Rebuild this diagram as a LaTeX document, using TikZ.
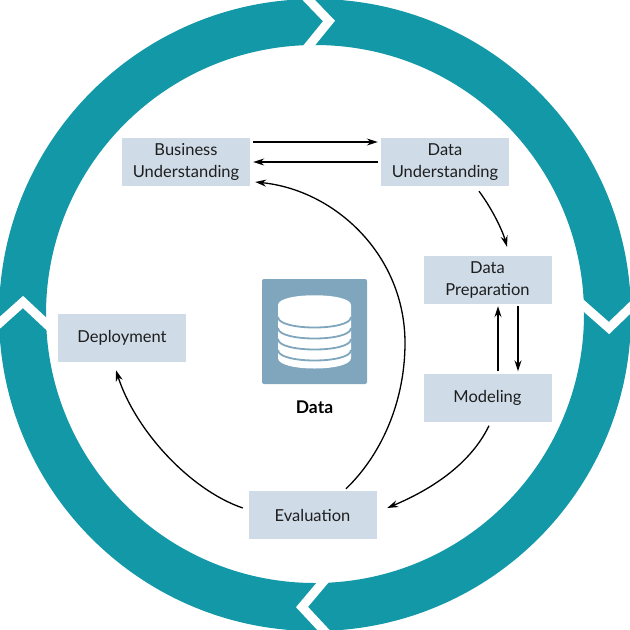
\documentclass[tikz,border=0pt]{standalone}
\usepackage{fontspec}
\setmainfont{Lato}
\usetikzlibrary{arrows.meta}
\definecolor{ringteal}{RGB}{18, 152, 166}
\definecolor{boxblue}{RGB}{207, 220, 232}
\definecolor{iconblue}{RGB}{127, 166, 189}
\definecolor{inkgray}{RGB}{30, 30, 30}
\tikzset{
    stagebox/.style={fill=boxblue, minimum width=128pt, minimum height=48pt,
        inner sep=0pt, align=center, text=inkgray,
        font=\fontsize{16.5}{22}\selectfont},
    flow/.style={-{Stealth[length=11pt,width=7pt]}, black, line width=1.3pt},
    notch/.style={white, line width=9pt, miter limit=10},
}

\begin{document}
\begin{tikzpicture}[x=1pt, y=-1pt]
    \useasboundingbox (0,0) rectangle (630,630);

    %% outer ring with the four white chevrons
    \fill[ringteal, even odd rule] (315,315) circle [radius=316] (315,314) circle [radius=269];
    \draw[notch] (303,-6) -- (329,21) -- (303,53);
    \draw[notch] (576,299) -- (609,328) -- (636,302);
    \draw[notch] (329,575) -- (302,607) -- (329,636);
    \draw[notch] (-6,328) -- (23,302) -- (54,331);

    %% the six stages
    \node[stagebox] (bizbox) at (186,162) {Business\\Understanding};
    \node[stagebox] (databox) at (445,162) {Data\\Understanding};
    \node[stagebox] (prepbox) at (487.5,280) {Data\\Preparation};
    \node[stagebox] (modelbox) at (487.5,397.5) {Modeling};
    \node[stagebox] (evalbox) at (312.5,515) {Evaluation};
    \node[stagebox] (deploybox) at (122,337.5) {Deployment};

    %% database icon
    \node[fill=iconblue, rounded corners=2pt, minimum size=105pt, inner sep=0pt] (iconbox) at (314.5,331.5) {};
    \fill[white] (278,305) .. controls (278,292) and (351,292) .. (351,305)
        -- (351,358) .. controls (351,372) and (278,372) .. (278,358) -- cycle;
    \foreach \y in {317,328,339,350}
        \draw[iconblue, line width=1.8pt] (278,\y) .. controls (278,\y+14) and (351,\y+14) .. (351,\y);
    \node[font=\fontsize{17.5}{20}\selectfont\bfseries, text=black, inner sep=0pt] (datalabel) at (314.5,407) {Data};

    %% arrows between the stages
    \draw[flow] ([xshift=3,yshift=20]bizbox.east) -- ([xshift=-3,yshift=20]databox.west);
    \draw[flow] ([xshift=-3]databox.west) -- ([xshift=3]bizbox.east);
    \draw[flow] ([xshift=34,yshift=-5]databox.south) .. controls (493,210) and (503,232) .. ([xshift=19.5,yshift=9]prepbox.north);
    \draw[flow] ([xshift=10.5,yshift=2]modelbox.north) -- ([xshift=10.5,yshift=-2]prepbox.south);
    \draw[flow] ([xshift=30.5,yshift=-2]prepbox.south) -- ([xshift=30.5,yshift=2]modelbox.north);
    \draw[flow] ([xshift=1.5,yshift=-4]modelbox.south) .. controls (470,465) and (430,490) .. ([xshift=10.5,yshift=7]evalbox.east);
    \draw[flow] ([xshift=-5.5,yshift=7]evalbox.west) .. controls (190,490) and (135,430) .. ([xshift=-6,yshift=-8.5]deploybox.south);
    \draw[flow] ([xshift=33.5,yshift=2]evalbox.north) .. controls (384,452) and (405,398) .. (405,343)
        .. controls (405,255) and (335,190) .. ([xshift=5,yshift=-20]bizbox.east);
\end{tikzpicture}
\end{document}
